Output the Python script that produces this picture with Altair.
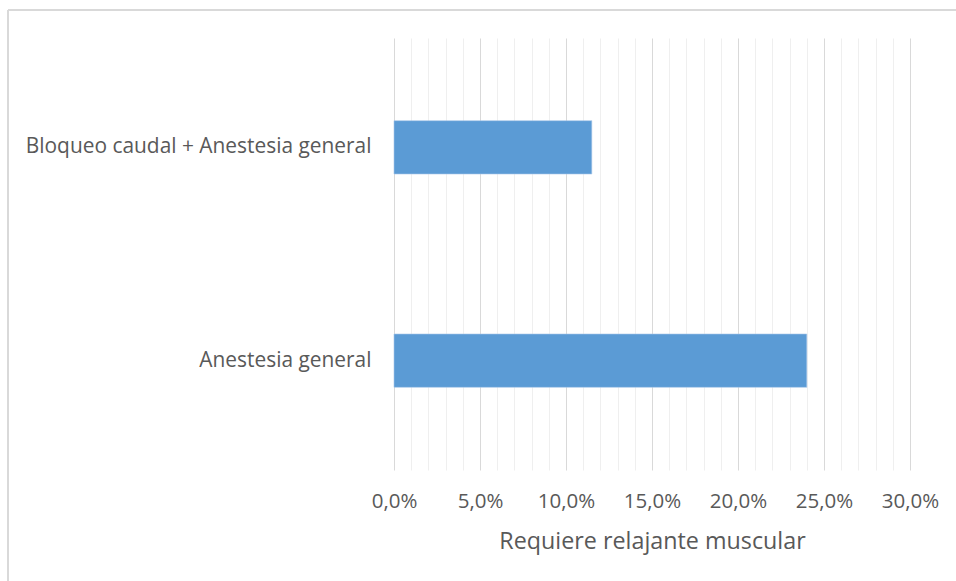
import altair as alt
import pandas as pd

# Categories and share of patients that needed a muscle relaxant
metodos = ["Bloqueo caudal + Anestesia general", "Anestesia general"]
porcentajes = [0.115, 0.240]

# Gridline positions (every 1 %), labelled every 5 %
ticks_x = [0.00, 0.01, 0.02, 0.03, 0.04, 0.05, 0.06, 0.07, 0.08, 0.09,
           0.10, 0.11, 0.12, 0.13, 0.14, 0.15, 0.16, 0.17, 0.18, 0.19,
           0.20, 0.21, 0.22, 0.23, 0.24, 0.25, 0.26, 0.27, 0.28, 0.29, 0.30]

titulo_x = "Requiere relajante muscular"

TEXT = "#595959"
FONT = "Open Sans"
W, H = 516, 432

df = pd.DataFrame({"metodo": metodos, "valor": porcentajes})

major = "round(datum.value * 100) % 5 === 0"

bars = alt.Chart(df).mark_bar(color="#5b9bd5", stroke="#a9c8ea", strokeWidth=0.6).encode(
    x=alt.X(
        "valor:Q",
        scale=alt.Scale(domain=[0, 0.30], nice=False, zero=True),
        axis=alt.Axis(
            values=ticks_x,
            title=titulo_x,
            labelExpr=f"{major} ? replace(format(datum.value, '.1%'), '.', ',') : ''",
            labelOverlap=False,
            labelFlush=False,
            labelFont=FONT,
            labelFontSize=20.5,
            labelColor=TEXT,
            labelPadding=21,
            titleFont=FONT,
            titleFontSize=23.3,
            titleFontWeight="normal",
            titleColor=TEXT,
            titlePadding=19,
            domain=False,
            ticks=False,
            grid=True,
            gridColor={"condition": {"test": major, "value": "#d9d9d9"}, "value": "#efefef"},
            gridWidth=1,
        ),
    ),
    y=alt.Y(
        "metodo:N",
        sort=metodos,
        scale=alt.Scale(paddingInner=0.75, paddingOuter=0.3875),
        axis=alt.Axis(
            title=None,
            domain=False,
            ticks=False,
            grid=False,
            labelFont=FONT,
            labelFontSize=20.9,
            labelColor=TEXT,
            labelPadding=23,
            labelLimit=400,
        ),
    ),
)

# Thin light frame around the chart area (top and left edges)
frame_df = pd.DataFrame({"k": [0]})
frame_top = alt.Chart(frame_df).mark_rule(color="#d9d9d9", strokeWidth=2).encode(
    x=alt.value(-386), x2=alt.value(600), y=alt.value(-28)
)
frame_left = alt.Chart(frame_df).mark_rule(color="#d9d9d9", strokeWidth=2).encode(
    x=alt.value(-386), y=alt.value(-28), y2=alt.value(600)
)

chart = (
    alt.layer(bars, frame_top, frame_left)
    .properties(
        width=W,
        height=H,
        padding={"left": 394, "top": 38, "right": 46, "bottom": 111},
        autosize=alt.AutoSizeParams(type="none"),
        background="white",
    )
    .configure_view(stroke=None)
)

chart.save("out.html", embed_options={"renderer": "svg", "actions": False})
